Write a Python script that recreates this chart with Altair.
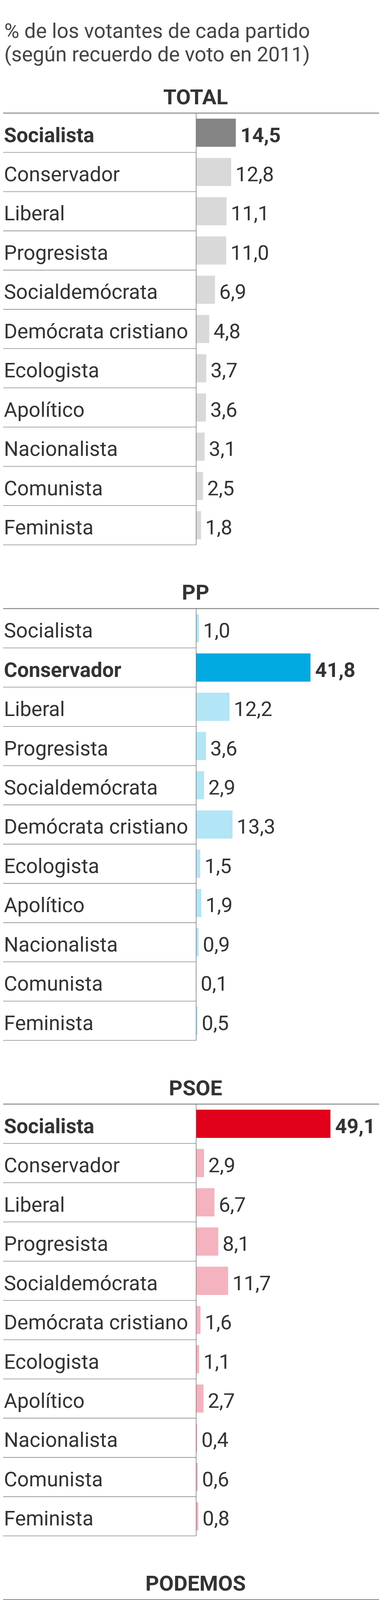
import altair as alt
import pandas as pd

# ---------------- data ----------------
categories = ["Socialista", "Conservador", "Liberal", "Progresista", "Socialdemócrata",
              "Demócrata cristiano", "Ecologista", "Apolítico", "Nacionalista",
              "Comunista", "Feminista"]
sections = ["TOTAL", "PP", "PSOE", "PODEMOS", "CIUDADANOS", "IU-UP"]

total = [14.5, 12.8, 11.1, 11.0, 6.9, 4.8, 3.7, 3.6, 3.1, 2.5, 1.8]
pp = [1.0, 41.8, 12.2, 3.6, 2.9, 13.3, 1.5, 1.9, 0.9, 0.1, 0.5]
psoe = [49.1, 2.9, 6.7, 8.1, 11.7, 1.6, 1.1, 2.7, 0.4, 0.6, 0.8]
podemos = [16.9, 1.4, 10.4, 23.8, 6.3, 0.7, 6.3, 1.9, 0.9, 7.8, 4.2]
ciudadanos = [4.5, 12.7, 20.7, 14.8, 12.2, 7.8, 2.7, 3.2, 0.8, 0.3, 0.9]
iuup = [15.0, 0.7, 9.0, 16.2, 8.2, 0.7, 6.4, 1.4, 0.4, 20.9, 4.2]
values = [total, pp, psoe, podemos, ciudadanos, iuup]

highlight = ["Socialista", "Conservador", "Socialista", "Progresista", "Liberal", "Comunista"]
dark_colors = ["#858585", "#00a9e0", "#e0001a", "#6a2658", "#ff6c10", "#d7002b"]
light_colors = ["#d9d9d9", "#b2e5f6", "#f4b3be", "#d2bfcf", "#fdd3b7", "#f4b3c0"]

title_lines = ["% de los votantes de cada partido", "(según recuerdo de voto en 2011)"]
source_text = "Fuente: CIS."
credit_text = "EL PAÍS"

# ---------------- layout / style ----------------
FONT = "Roboto"
TXT = "#333333"
W = 980
H = 1118
STEP = H / len(categories)
X0 = 506.5           # pixel position of the zero line
K = 7.08             # pixels per percentage point
xdom = [-X0 / K, (W - X0) / K]


def panel(i):
    df = pd.DataFrame({"cat": categories, "val": values[i]})
    df["label"] = [f"{v:.1f}".replace(".", ",") for v in values[i]]
    df["hl"] = df["cat"] == highlight[i]

    xs = alt.Scale(domain=xdom, nice=False, zero=False)
    ys = alt.Scale(domain=categories, paddingInner=0, paddingOuter=0)
    y = alt.Y("cat:N", scale=ys, axis=None, sort=categories)
    xq = alt.X("val:Q", scale=xs, axis=None)

    base = alt.Chart(df).transform_calculate(lo=str(xdom[0]), zero="0")

    top_rule = alt.Chart(pd.DataFrame({"k": [0]})).mark_rule(
        color="#888888", strokeWidth=2.5
    ).encode(x=alt.value(0), x2=alt.value(W), y=alt.value(0))

    seps = base.mark_rule(color="#777777", strokeWidth=1.3, yOffset=STEP / 2).encode(
        x=alt.X("lo:Q", scale=xs, axis=None), x2=alt.X2("zero:Q"), y=y,
    )

    bars = base.mark_bar(size=73).encode(
        x=xq, y=y,
        color=alt.condition(alt.datum.hl, alt.value(dark_colors[i]), alt.value(light_colors[i])),
    )

    divider = alt.Chart(pd.DataFrame({"zero": [0]})).mark_rule(
        color="#777777", strokeWidth=1.5
    ).encode(x=alt.X("zero:Q", scale=xs, axis=None), y=alt.value(0), y2=alt.value(H))

    common = dict(baseline="alphabetic", dy=24, font=FONT, fontSize=53, color=TXT)
    vals_n = base.transform_filter("!datum.hl").mark_text(
        align="left", dx=11, **common).encode(x=xq, y=y, text="label:N")
    vals_b = base.transform_filter("datum.hl").mark_text(
        align="left", dx=12, fontWeight="bold", **common).encode(x=xq, y=y, text="label:N")
    cats_n = base.transform_filter("!datum.hl").mark_text(
        align="left", **common).encode(x=alt.value(9), y=y, text="cat:N")
    cats_b = base.transform_filter("datum.hl").mark_text(
        align="left", fontWeight="bold", **common).encode(x=alt.value(9), y=y, text="cat:N")

    title = alt.Chart(pd.DataFrame({"t": [sections[i]]})).mark_text(
        align="center", baseline="alphabetic", font=FONT, fontSize=55,
        fontWeight="bold", color=TXT
    ).encode(text="t:N", x=alt.value(505), y=alt.value(-23))

    layers = [top_rule, seps, bars, divider, vals_n, vals_b, cats_n, cats_b, title]

    if i == 0:
        header = alt.Chart(pd.DataFrame({"t": ["\n".join(title_lines)]})).mark_text(
            align="left", baseline="alphabetic", font=FONT, fontSize=53,
            color="#444444", lineBreak="\n", lineHeight=61
        ).encode(text="t:N", x=alt.value(10), y=alt.value(-195))
        layers.append(header)
    if i == len(sections) - 1:
        src = alt.Chart(pd.DataFrame({"t": [source_text]})).mark_text(
            align="left", baseline="alphabetic", font=FONT, fontSize=39, color="#555555"
        ).encode(text="t:N", x=alt.value(539), y=alt.value(1181))
        cred = alt.Chart(pd.DataFrame({"t": [credit_text]})).mark_text(
            align="right", baseline="alphabetic", font=FONT, fontSize=39, color="#555555"
        ).encode(text="t:N", x=alt.value(957), y=alt.value(1181))
        layers += [src, cred]

    return alt.layer(*layers).properties(width=W, height=H)


chart = alt.vconcat(*[panel(i) for i in range(len(sections))], spacing=165, bounds="flush")
chart = chart.properties(
    padding={"left": -9, "top": 3, "right": 0, "bottom": 0},
    background="white",
).configure_view(stroke=None)

chart.save("out.html", embed_options={"renderer": "svg", "actions": False})
